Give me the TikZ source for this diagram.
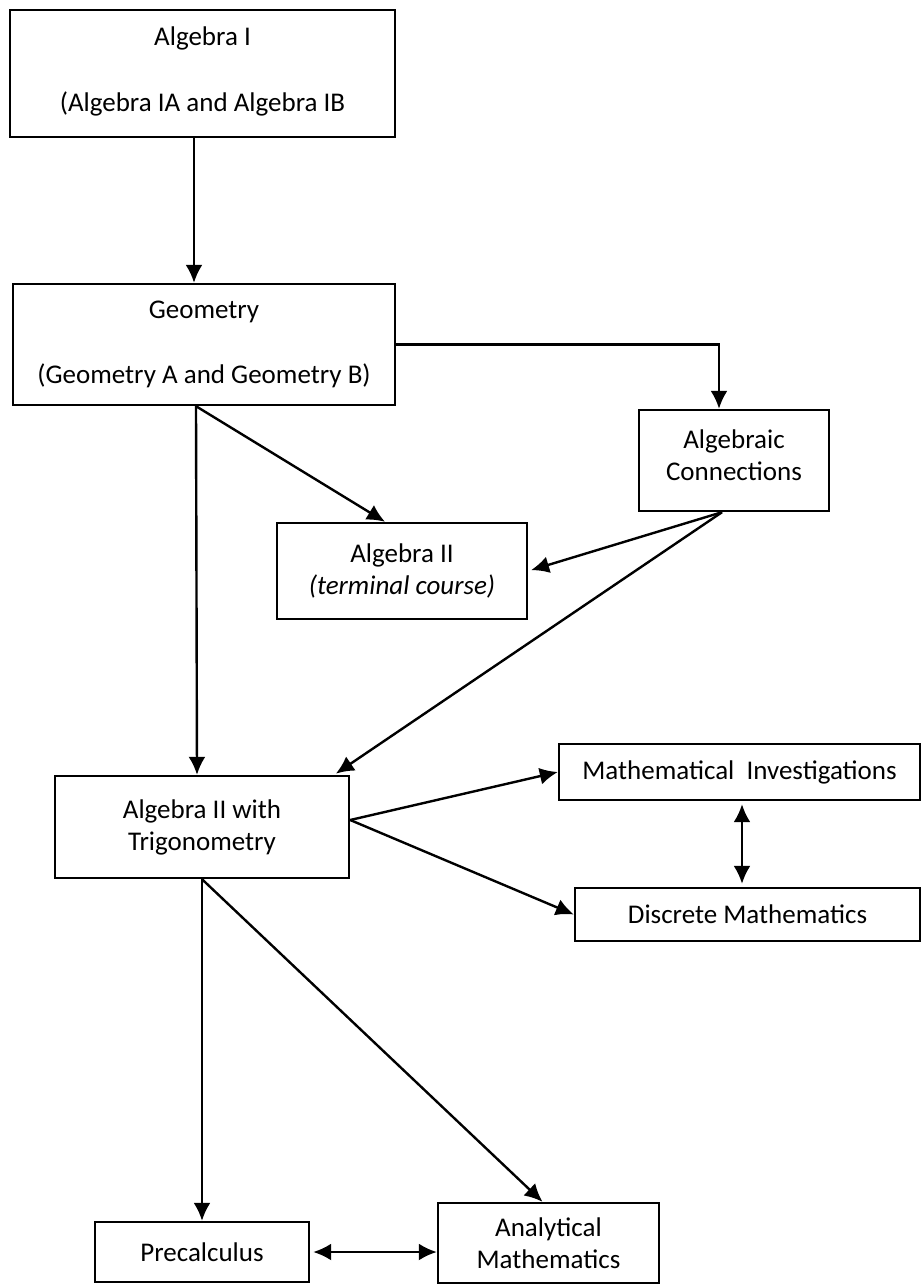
\documentclass[tikz,border=0pt]{standalone}
\usepackage{fontspec}
\setmainfont{Carlito}
\usetikzlibrary{arrows.meta}
\begin{document}
\begin{tikzpicture}[x=0.5pt,y=-0.5pt,>={Latex[length=9pt,width=8.5pt]},
    course/.style={draw,line width=1.2pt,align=center,inner sep=0pt,font=\fontsize{13.5pt}{16pt}\selectfont},
    every path/.style={line width=1.2pt}]
\useasboundingbox (0,0) rectangle (922,1284);
\node[course,minimum width=192.5pt,minimum height=63.5pt] (alg1) at (202.5,73.5) {Algebra I\\[17pt](Algebra IA and Algebra IB\\[-11.5pt]};
\node[course,minimum width=191pt,minimum height=60.5pt] (geom) at (204,344.5) {Geometry\\[16.5pt](Geometry A and Geometry B)};
\node[course,minimum width=95pt,minimum height=50.5pt] (conn) at (734,460.5) {Algebraic\\Connections\\[-11pt]};
\node[course,minimum width=125pt,minimum height=48pt] (alg2) at (402,571) {Algebra II\\\textit{(terminal course)}};
\node[course,minimum width=147pt,minimum height=51pt] (trig) at (202,827) {Algebra II with\\Trigonometry};
\node[course,minimum width=180.5pt,minimum height=28pt] (inv) at (739.5,772) {Mathematical\ \ Investigations};
\node[course,minimum width=172.5pt,minimum height=26.5pt] (disc) at (747.5,914.5) {Discrete Mathematics};
\node[course,minimum width=107pt,minimum height=30pt] (pre) at (202,1252) {Precalculus};
\node[course,minimum width=110.5pt,minimum height=40pt] (anal) at (548.5,1243) {Analytical\\Mathematics};

\draw[->] ([xshift=-4.25pt]alg1.south)--([xshift=-5pt]geom.north);
\draw[->] (geom.east)-|([xshift=-7.5pt]conn.north);
\draw[->] ([xshift=-4pt]geom.south)--([xshift=-2.5pt]trig.north);
\draw[->] ([xshift=-4pt]geom.south)--([xshift=-8.5pt]alg2.north);
\draw[->,shorten >=1.5pt] ([xshift=-6pt]conn.south)--(alg2.east);
\draw[->,shorten >=1pt] ([xshift=-6pt]conn.south)--([xshift=-8pt]trig.north east);
\draw[->] ([yshift=3.5pt]trig.east)--(inv.west);
\draw[->] ([yshift=3.5pt]trig.east)--(disc.west);
\draw[<->,shorten <=1.5pt,shorten >=1.5pt] ([xshift=1.25pt]inv.south)--([xshift=1.25pt]inv.south |- disc.north);
\draw[->] (trig.south)--(pre.north);
\draw[->] (trig.south)--([xshift=-3pt]anal.north);
\draw[<->,shorten <=1.5pt] (pre.east)--(pre.east -| anal.west);
\end{tikzpicture}
\end{document}
